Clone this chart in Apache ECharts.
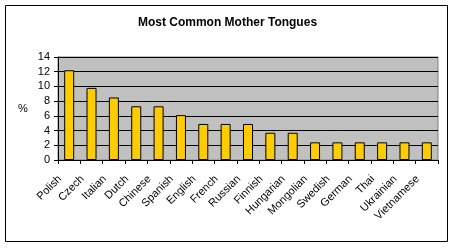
<!DOCTYPE html>
<html><head><meta charset="utf-8">
<script src="https://cdn.jsdelivr.net/npm/echarts@6/dist/echarts.min.js"></script>
<style>html,body{margin:0;padding:0;background:#fff}#c{width:455px;height:249px}</style>
</head><body><div id="c"></div>
<script>
const categories = ["Polish","Czech","Italian","Dutch","Chinese","Spanish","English","French","Russian","Finnish","Hungarian","Mongolian","Swedish","German","Thai","Ukrainian","Vietnamese"];
const values = [12.2,9.8,8.5,7.3,7.3,6.1,4.9,4.9,4.9,3.7,3.7,2.4,2.4,2.4,2.4,2.4,2.4];
const yTicks = [0,2,4,6,8,10,12,14];
const title = "Most Common Mother Tongues";
const yName = "%";

const chart = echarts.init(document.getElementById('c'), null, {renderer:'canvas'});
const font = 'Liberation Sans, Arial, sans-serif';
chart.setOption({
  animation:false,
  backgroundColor:'#fff',
  title:{text:title,left:'center',top:12,textStyle:{fontFamily:font,fontSize:12,fontWeight:'bold',color:'#000'}},
  graphic:[
    {type:'rect',shape:{x:5.5,y:5.5,width:442,height:236},style:{fill:'none',stroke:'#000',lineWidth:1},z:-1},
    {type:'text',left:18,top:103,style:{text:yName,font:'11px '+font,fill:'#000'}}
  ],
  grid:{left:58,top:57,width:380,height:103,backgroundColor:'#c0c0c0',show:true,borderColor:'#808080',borderWidth:1},
  xAxis:{type:'category',data:categories,
    axisLine:{lineStyle:{color:'#000'}},
    axisTick:{show:true,alignWithLabel:false,length:4,lineStyle:{color:'#000'}},
    axisLabel:{interval:0,rotate:45,fontFamily:font,fontSize:11,color:'#000',margin:8,padding:[0,13,0,0]}},
  yAxis:{type:'value',min:0,max:14,interval:2,
    axisLine:{show:true,lineStyle:{color:'#000'}},
    axisTick:{show:true,length:4,lineStyle:{color:'#000'}},
    axisLabel:{fontFamily:font,fontSize:11,color:'#000',margin:8,
      formatter:v=>yTicks.includes(v)?String(v):''},
    splitLine:{lineStyle:{color:'#000',width:1}}},
  series:[{type:'bar',data:values,barWidth:10,
    itemStyle:{color:'#ffcc00',borderColor:'#000',borderWidth:1}}]
});
</script></body></html>
